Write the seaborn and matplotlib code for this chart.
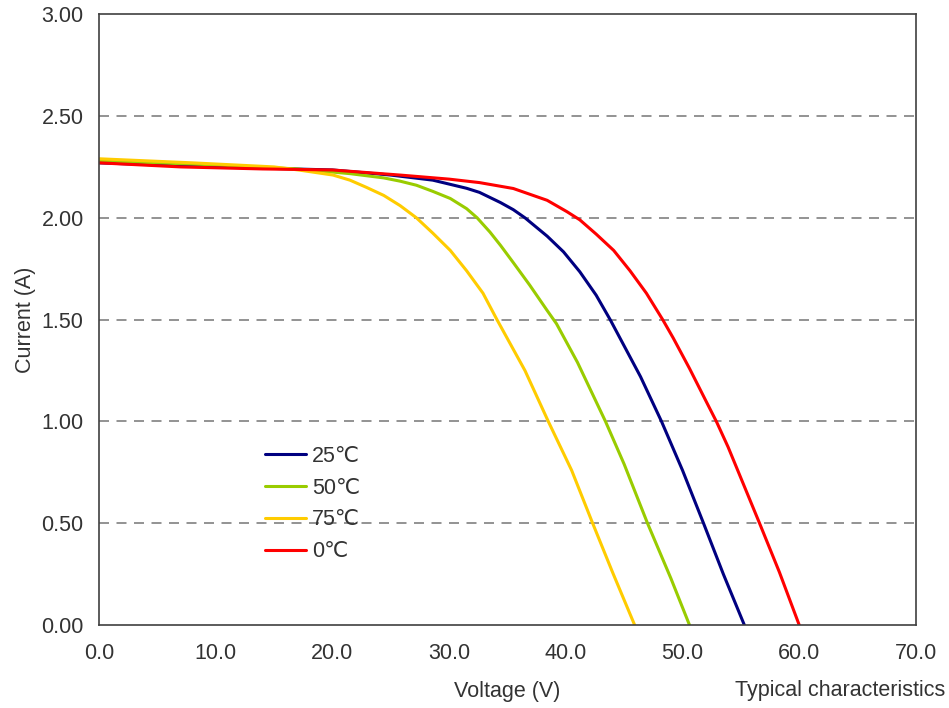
import matplotlib
matplotlib.use("Agg")
import matplotlib.pyplot as plt
import seaborn as sns
import pandas as pd

# I-V curves, one per module temperature
v_25 = [0, 10, 20, 25, 28.6, 31.5, 32.6, 34.4, 35.5, 36.5, 38.4, 39.8, 41.2, 42.6, 43.8,
        46.4, 48.2, 50, 51.8, 53.5, 55.3]
i_25 = [2.27, 2.25, 2.235, 2.21, 2.185, 2.145, 2.125, 2.075, 2.04, 2.00, 1.91, 1.833, 1.735,
        1.62, 1.50, 1.22, 1.00, 0.76, 0.50, 0.25, 0.0]

v_50 = [0, 10, 17, 21.5, 24.4, 25.8, 27.2, 28.6, 30.1, 31.5, 32.4, 33.5, 34.4, 35.5, 36.9, 38.4,
        39.2, 41, 43.4, 45, 47.0, 49, 50.6]
i_50 = [2.28, 2.26, 2.24, 2.217, 2.196, 2.18, 2.16, 2.13, 2.095, 2.045, 2.00, 1.93, 1.865, 1.78,
        1.67, 1.545, 1.48, 1.29, 1.00, 0.79, 0.50, 0.23, 0.0]

v_75 = [0, 8, 15, 17.2, 20.05, 21.5, 22.9, 24.4, 25.8, 27.2, 28.6, 30.1, 31.5, 32.9, 34.1, 36.5,
        38.5, 40.5, 42.3, 44, 45.9]
i_75 = [2.29, 2.27, 2.25, 2.234, 2.21, 2.185, 2.15, 2.11, 2.06, 2.00, 1.925, 1.84, 1.74, 1.63,
        1.50, 1.25, 1.00, 0.76, 0.50, 0.26, 0.0]

v_0 = [0, 7, 14, 20, 25.8, 30, 32.6, 35.5, 38.4, 40.1, 41.2, 42.6, 44.1, 45.5, 46.9, 48.3, 49.2,
       50.6, 52.1, 52.9, 53.9, 56.6, 58.3, 60.0]
i_0 = [2.27, 2.25, 2.24, 2.235, 2.21, 2.19, 2.173, 2.144, 2.086, 2.03, 1.99, 1.92, 1.84, 1.74,
       1.63, 1.50, 1.41, 1.26, 1.09, 1.00, 0.875, 0.50, 0.26, 0.0]

labels = ["25℃", "50℃", "75℃", "0℃"]
colors = ["#000080", "#99CC00", "#FFCC00", "#FF0000"]
x_ticks = [0, 10, 20, 30, 40, 50, 60, 70]
y_ticks = [0, 0.5, 1.0, 1.5, 2.0, 2.5, 3.0]

frames = []
for lab, v, i in zip(labels, [v_25, v_50, v_75, v_0], [i_25, i_50, i_75, i_0]):
    frames.append(pd.DataFrame({"Voltage": v, "Current": i, "Temp": lab}))
df = pd.concat(frames, ignore_index=True)

sns.set_style("white")
plt.rcParams["font.family"] = ["Liberation Sans", "DejaVu Sans"]
txt = "#333333"
fs = 15.5

fig = plt.figure(figsize=(9.49, 7.08), dpi=100)
ax = fig.add_axes([0.1043, 0.117, 0.8609, 0.863])

for y in y_ticks[1:-1]:
    ax.axhline(y, color="#808080", lw=1.2, dashes=(6, 4.5), zorder=0)

sns.lineplot(data=df, x="Voltage", y="Current", hue="Temp", hue_order=labels,
             palette=colors, sort=False, estimator=None, lw=2.2, ax=ax)

ax.set_xlim(0, 70)
ax.set_ylim(0, 3)
ax.set_xticks(x_ticks)
ax.set_xticklabels([f"{t:.1f}" for t in x_ticks])
ax.set_yticks(y_ticks)
ax.set_yticklabels([f"{t:.2f}" for t in y_ticks])
ax.tick_params(axis="both", direction="in", length=5, width=1, colors="#404040",
               labelcolor=txt, labelsize=fs)
ax.tick_params(axis="x", pad=13)
ax.tick_params(axis="y", pad=11)
for s in ax.spines.values():
    s.set_color("#404040")
    s.set_linewidth(1.2)

ax.set_xlabel("Voltage (V)", fontsize=fs, color=txt, labelpad=12)
ax.set_ylabel("Current (A)", fontsize=fs, color=txt, labelpad=4)

leg = ax.legend(loc="upper left", bbox_to_anchor=(0.18, 0.325), frameon=False,
                fontsize=fs, handlelength=1.9, labelspacing=0.5, handletextpad=0.25)
for t in leg.get_texts():
    t.set_color(txt)

fig.text(0.996, 0.0254, "Typical characteristics", ha="right", va="center",
         fontsize=fs, color=txt)

fig.savefig("out.png", dpi=100)
